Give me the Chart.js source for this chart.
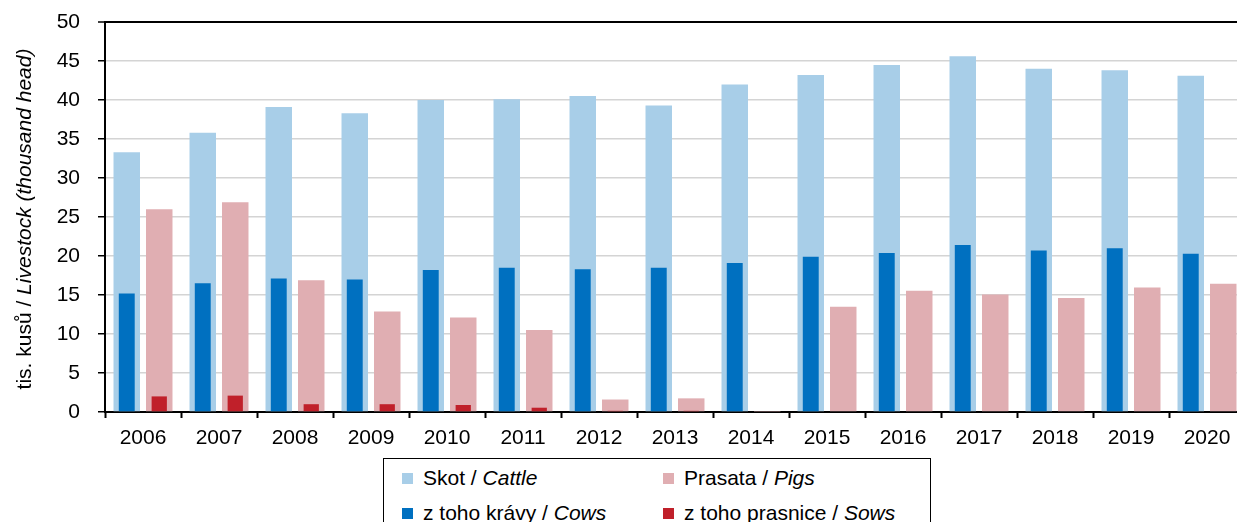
<!DOCTYPE html>
<html>
<head>
<meta charset="utf-8">
<script src="https://cdn.jsdelivr.net/npm/chart.js@4.4.0/dist/chart.umd.min.js"></script>
<style>
  body { margin: 0; background: #fff; overflow: hidden; }
  #wrap { position: relative; width: 1237px; height: 522px; overflow: hidden; }
  #box { position: absolute; left: 0; top: 0; width: 1250px; height: 522px; }
  #legend {
    position: absolute; left: 383px; top: 458px; width: 546px; height: 90px;
    border: 1.5px solid #000; background: #fff;
    font: 21px "Liberation Sans", Arial, sans-serif; color: #000;
  }
  .item { position: absolute; display: flex; align-items: center; white-space: nowrap; line-height: 24px; }
  .sw { width: 11px; height: 11px; margin-right: 10px; }
</style>
</head>
<body>
<div id="wrap">
  <div id="box"><canvas id="grafico" width="1250" height="522"></canvas></div>
  <div id="legend"></div>
</div>
<script>
// data (thousand head)
const years = ['2006', '2007', '2008', '2009', '2010', '2011', '2012', '2013', '2014', '2015', '2016', '2017', '2018', '2019', '2020'];
const cattle = [33.3, 35.8, 39.1, 38.3, 40.0, 40.1, 40.5, 39.3, 42.0, 43.2, 44.5, 45.6, 44.0, 43.8, 43.1];
const cows = [15.2, 16.5, 17.1, 17.0, 18.2, 18.5, 18.3, 18.5, 19.1, 19.9, 20.4, 21.4, 20.7, 21.0, 20.3];
const pigs = [26.0, 26.9, 16.9, 12.9, 12.1, 10.5, 1.6, 1.75, 0.05, 13.5, 15.55, 15.05, 14.6, 15.95, 16.45];
const sows = [2.0, 2.1, 1.0, 1.0, 0.9, 0.55, 0.15, 0.15, 0.1, 0, 0, 0, 0, 0, 0];
const yTicks = [0, 5, 10, 15, 20, 25, 30, 35, 40, 45, 50];

const legendItems = [
  { cz: 'Skot', en: 'Cattle', color: '#A8CEE8', col: 0, row: 0 },
  { cz: 'Prasata', en: 'Pigs', color: '#E0AEB2', col: 1, row: 0 },
  { cz: 'z toho krávy', en: 'Cows', color: '#0070C0', col: 0, row: 1 },
  { cz: 'z toho prasnice', en: 'Sows', color: '#C0202A', col: 1, row: 1 }
];

const FONT = "'Liberation Sans', Arial, sans-serif";
Chart.defaults.font.family = FONT;
Chart.defaults.font.size = 21;
Chart.defaults.color = '#000';

// y axis title with an italic english part
const yTitle = {
  id: 'yTitle',
  afterDraw(chart) {
    const ctx = chart.ctx;
    const area = chart.chartArea;
    const parts = [['tis. kusů / ', 'normal'], ['Livestock (thousand head)', 'italic']];
    ctx.save();
    ctx.translate(25, (area.top + area.bottom) / 2 + 2);
    ctx.rotate(-Math.PI / 2);
    ctx.fillStyle = '#000';
    ctx.textBaseline = 'middle';
    let total = 0;
    parts.forEach(p => { ctx.font = p[1] + ' 21px ' + FONT; total += ctx.measureText(p[0]).width; });
    let x = -total / 2;
    parts.forEach(p => {
      ctx.font = p[1] + ' 21px ' + FONT;
      ctx.fillText(p[0], x, 0);
      x += ctx.measureText(p[0]).width;
    });
    ctx.restore();
  }
};

// same stack name = same slot, drawn over each other (y is not stacked)
const ctx = document.getElementById('grafico').getContext('2d');
new Chart(ctx, {
  type: 'bar',
  data: {
    labels: years,
    datasets: [
      { label: 'Skot / Cattle', data: cattle, backgroundColor: '#A8CEE8', stack: 'skot', order: 1, barPercentage: 0.815 },
      { label: 'Prasata / Pigs', data: pigs, backgroundColor: '#E0AEB2', stack: 'prasata', order: 1, barPercentage: 0.815 },
      { label: 'z toho krávy / Cows', data: cows, backgroundColor: '#0070C0', stack: 'skot', order: 0, barPercentage: 0.49 },
      { label: 'z toho prasnice / Sows', data: sows, backgroundColor: '#C0202A', stack: 'prasata', order: 0, barPercentage: 0.47 }
    ]
  },
  options: {
    responsive: false,
    animation: false,
    layout: { padding: { left: 0, right: 5, top: 22, bottom: 70 } },
    datasets: { bar: { categoryPercentage: 0.855 } },
    plugins: { legend: { display: false }, tooltip: { enabled: false } },
    scales: {
      x: {
        grid: { drawOnChartArea: false, drawTicks: true, tickLength: 6, tickColor: '#000', tickWidth: 2, offset: true },
        border: { color: '#000', width: 2 },
        ticks: { padding: 8, autoSkip: false, maxRotation: 0, font: { size: 21 } },
        afterFit(scale) { scale.height = 40; scale.paddingLeft = 0; scale.paddingRight = 0; }
      },
      y: {
        min: 0, max: 50,
        stacked: false,
        afterBuildTicks(scale) { scale.ticks = yTicks.map(v => ({ value: v })); },
        grid: {
          color: c => c.tick && c.tick.value === 50 ? '#000' : '#D4D4D4',
          lineWidth: c => c.tick && c.tick.value === 50 ? 2 : 1.5,
          tickColor: '#000', tickLength: 7, tickWidth: 1.5
        },
        border: { color: '#000', width: 2 },
        ticks: { padding: 18, font: { size: 21 } },
        afterFit(scale) { scale.width = 105; scale.paddingTop = 0; scale.paddingBottom = 0; }
      }
    }
  },
  plugins: [yTitle]
});

// html legend in two columns
const legend = document.getElementById('legend');
legendItems.forEach(it => {
  const d = document.createElement('div');
  d.className = 'item';
  d.style.left = (it.col === 0 ? 18 : 279) + 'px';
  d.style.top = (it.row === 0 ? 7 : 42) + 'px';
  d.innerHTML = '<span class="sw" style="background:' + it.color + '"></span>' +
    '<span>' + it.cz + ' / <i>' + it.en + '</i></span>';
  legend.appendChild(d);
});
</script>
</body>
</html>
